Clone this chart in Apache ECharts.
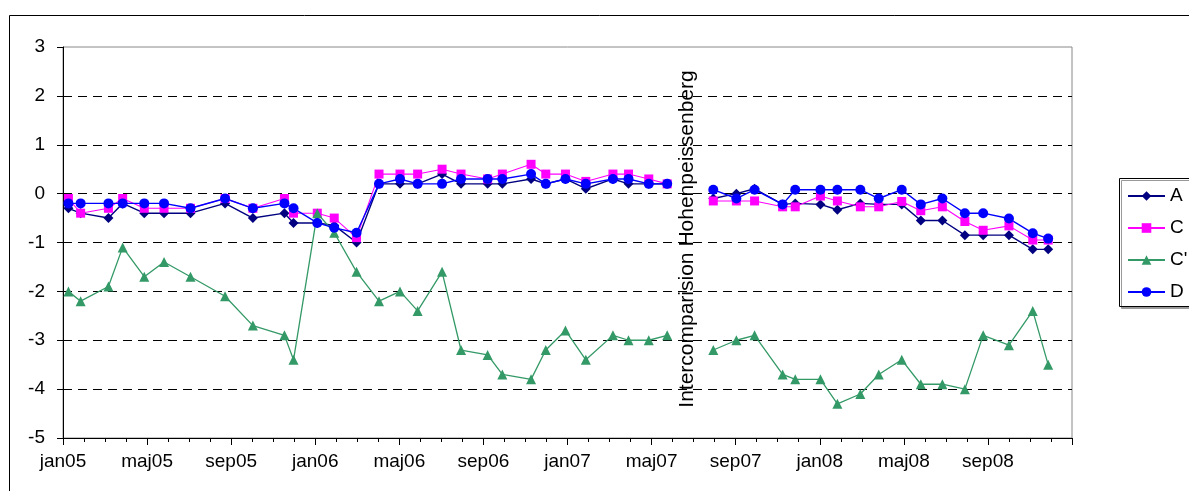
<!DOCTYPE html>
<html>
<head>
<meta charset="utf-8">
<script src="https://cdn.jsdelivr.net/npm/echarts@6/dist/echarts.min.js"></script>
<style>
  html, body { margin: 0; padding: 0; background: #fff; }
  #chart { width: 1189px; height: 491px; }
</style>
</head>
<body>
<div id="chart"></div>
<script>
// ---- data ----
const dates = [
  '2005-01-09','2005-01-27','2005-03-06','2005-03-27','2005-04-27','2005-05-26','2005-07-03','2005-08-23',
  '2005-10-02','2005-11-17','2005-11-30','2006-01-04','2006-01-29','2006-02-28','2006-04-02','2006-05-02',
  '2006-05-28','2006-07-02','2006-07-30','2006-09-07','2006-09-28','2006-11-09','2006-11-30','2006-12-29',
  '2007-01-28','2007-03-06','2007-03-29','2007-04-27','2007-05-24',
  '2007-06-27',
  '2007-07-30','2007-09-02','2007-09-28','2007-11-08','2007-11-26','2008-01-02','2008-01-27','2008-02-28',
  '2008-03-26','2008-04-28','2008-05-26','2008-06-26','2008-07-29','2008-08-25','2008-10-01','2008-11-05',
  '2008-11-27'
];
const seriesA = [
  -0.3,-0.4,-0.5,-0.2,-0.4,-0.4,-0.4,-0.2,-0.5,-0.4,-0.6,-0.6,-0.65,-1.0,0.2,0.2,
  0.2,0.4,0.2,0.2,0.2,0.3,0.2,0.3,0.1,0.3,0.2,0.2,0.2,
  null,
  -0.1,0.0,0.1,-0.22,-0.2,-0.22,-0.33,-0.2,-0.22,-0.22,-0.55,-0.55,-0.85,-0.85,-0.85,-1.14,-1.14
];
const seriesC = [
  -0.1,-0.4,-0.3,-0.1,-0.3,-0.3,-0.3,-0.1,-0.3,-0.1,-0.4,-0.4,-0.5,-0.9,0.4,0.4,
  0.4,0.5,0.4,0.3,0.4,0.6,0.4,0.4,0.25,0.4,0.4,0.3,0.2,
  null,
  -0.15,-0.15,-0.15,-0.27,-0.27,-0.05,-0.15,-0.27,-0.27,-0.16,-0.35,-0.27,-0.57,-0.75,-0.66,-0.95,-0.95
];
const seriesCp = [
  -2.0,-2.2,-1.9,-1.1,-1.7,-1.4,-1.7,-2.1,-2.7,-2.9,-3.4,-0.4,-0.8,-1.6,-2.2,-2.0,
  -2.4,-1.6,-3.2,-3.3,-3.7,-3.8,-3.2,-2.8,-3.4,-2.9,-3.0,-3.0,-2.9,
  null,
  -3.2,-3.0,-2.9,-3.7,-3.8,-3.8,-4.3,-4.1,-3.7,-3.4,-3.9,-3.9,-4.0,-2.9,-3.1,-2.4,-3.5
];
const seriesD = [
  -0.2,-0.2,-0.2,-0.2,-0.2,-0.2,-0.3,-0.1,-0.3,-0.2,-0.3,-0.6,-0.7,-0.8,0.2,0.3,
  0.2,0.2,0.3,0.3,0.3,0.4,0.2,0.3,0.2,0.3,0.3,0.2,0.2,
  null,
  0.08,-0.1,0.08,-0.22,0.08,0.08,0.08,0.08,-0.1,0.08,-0.22,-0.1,-0.4,-0.4,-0.51,-0.81,-0.92
];
const seriesNames = ['A', 'C', "C'", 'D'];
const xTickLabels = ['jan05','maj05','sep05','jan06','maj06','sep06','jan07','maj07','sep07','jan08','maj08','sep08'];
const annotation = 'Intercomparision Hohenpeissenberg';

// month index (months since jan05, fractional by day)
function monthIndex(s) {
  const p = s.split('-').map(Number);
  const dim = new Date(p[0], p[1], 0).getDate();
  return (p[0] - 2005) * 12 + (p[1] - 1) + (p[2] - 1) / dim;
}
const xs = dates.map(monthIndex);
const pairs = vals => vals.map((v, i) => [xs[i], v]);

const FONT = 'Liberation Sans, Arial, sans-serif';
const chart = echarts.init(document.getElementById('chart'), null, { renderer: 'canvas' });

const mk = (name, vals, color, symbol, size, width) => ({
  name, type: 'line', data: pairs(vals),
  symbol, symbolSize: size, connectNulls: false,
  lineStyle: { color, width },
  itemStyle: { color, borderWidth: 0 },
  emphasis: { disabled: true },
  animation: false
});

chart.setOption({
  backgroundColor: '#fff',
  animation: false,
  grid: { left: 63, right: 117, top: 47, bottom: 53, show: true, borderColor: '#888', borderWidth: 1, backgroundColor: 'transparent' },
  xAxis: {
    type: 'value', min: 0, max: 48, interval: 4,
    axisLine: { show: true, onZero: false, lineStyle: { color: '#000', width: 1 } },
    axisTick: { show: true, length: 7, lineStyle: { color: '#000' } },
    minorTick: { show: true, splitNumber: 4, length: 4, lineStyle: { color: '#000' } },
    splitLine: { show: false },
    axisLabel: {
      color: '#000', fontSize: 19, fontFamily: FONT, margin: 14,
      formatter: v => (v % 4 === 0 && v / 4 < xTickLabels.length) ? xTickLabels[v / 4] : ''
    }
  },
  yAxis: {
    type: 'value', min: -5, max: 3, interval: 1,
    axisLine: { show: true, lineStyle: { color: '#000', width: 1 } },
    axisTick: { show: true, length: 6, lineStyle: { color: '#000' } },
    splitLine: { show: true, showMinLine: false, showMaxLine: false, lineStyle: { color: '#000', type: [9, 6], width: 1 } },
    axisLabel: { color: '#000', fontSize: 19, fontFamily: FONT, margin: 18 }
  },
  legend: {
    data: seriesNames, orient: 'vertical', left: 1127, top: 186,
    itemWidth: 37, itemHeight: 12, itemGap: 12, padding: 0,
    textStyle: { color: '#000', fontSize: 19, fontFamily: FONT, lineHeight: 20 }
  },
  graphic: [
    { type: 'rect', z: -10, shape: { x: 9.5, y: 15.5, width: 1300, height: 600 }, style: { fill: 'none', stroke: '#000', lineWidth: 1 } },
    { type: 'rect', z: -5, shape: { x: 1119.5, y: 178.5, width: 100, height: 128 },
      style: { fill: '#fff', stroke: '#000', lineWidth: 1, shadowColor: '#999', shadowOffsetX: 2, shadowOffsetY: 2, shadowBlur: 0 } },
    { type: 'text', z: 10, x: 687, y: 239, rotation: Math.PI / 2,
      style: { text: annotation, fill: '#000', font: '21px ' + FONT, textAlign: 'center', textVerticalAlign: 'middle', align: 'center', verticalAlign: 'middle' } }
  ],
  series: [
    mk(seriesNames[0], seriesA, '#000080', 'diamond', 10, 1.4),
    mk(seriesNames[1], seriesC, '#FF00FF', 'rect', 9, 1.1),
    mk(seriesNames[2], seriesCp, '#339966', 'triangle', 10, 1.3),
    mk(seriesNames[3], seriesD, '#0000FF', 'circle', 10, 1.4)
  ]
});
</script>
</body>
</html>
